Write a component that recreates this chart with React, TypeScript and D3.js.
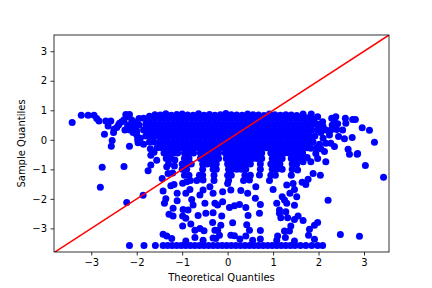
import { useEffect, useRef } from "react"
import * as d3 from "d3"

type Pt = [number, number]

const xTicks = [-3, -2, -1, 0, 1, 2, 3]
const yTicks = [-3, -2, -1, 0, 1, 2, 3]
const lineEnds = [-3.82, 3.55]

// left tail of the upper band
const leftFringe: Pt[] = [
  [-3.42, 0.59], [-3.22, 0.83], [-3.07, 0.83], [-2.94, 0.83], [-2.88, 0.72], [-2.83, 0.64], [-2.68, 0.64],
  [-2.57, 0.64], [-2.63, 0.47], [-2.71, 0.19], [-2.51, 0.25], [-2.44, 0.42], [-2.54, -0.02], [-2.56, -0.22],
  [-2.16, -0.22], [-2.33, 0.61], [-2.22, 0.78], [-2.16, 0.86], [-2.24, 0.86], [-2.26, 0.33], [-2.11, 0.67],
  [-2.15, 0.33], [-2.05, 0.44], [-2.0, 0.16], [-1.97, -0.1], [-2.4, 0.5], [-2.1, 0.55], [-2.0, 0.3],
  [-1.92, 0.05], [-1.85, -0.15], [-1.7, -0.3], [-1.62, -0.42], [-2.5, 0.36], [-2.38, 0.56], [-2.28, 0.68],
  [-2.2, 0.5], [-2.2, 0.38], [-2.05, 0.6], [-1.95, 0.5], [-1.95, 0.72], [-2.08, 0.25], [-1.98, 0.0],
]

// right tail of the upper band
const rightFringe: Pt[] = [
  [3.23, -0.08], [3.12, 0.32], [2.96, 0.41], [2.81, 0.69], [2.75, 0.69], [2.59, 0.73], [2.6, 0.56],
  [2.74, 0.08], [2.57, 0.04], [2.44, 0.11], [2.53, 0.33], [2.38, 0.78], [2.29, 0.73], [2.35, 0.61],
  [2.42, 0.54], [2.35, -0.23], [2.27, -0.12], [2.65, -0.32], [2.86, -0.46], [1.98, 0.78], [1.84, 0.87],
  [1.66, 0.87], [2.09, 0.61], [2.16, 0.33], [2.27, 0.33], [2.24, 0.16], [2.16, -0.12], [2.13, -0.4],
  [1.94, -0.46], [1.83, -0.29], [2.1, 0.45], [2.05, 0.25], [2.1, 0.05], [2.02, -0.15], [2.05, -0.3],
  [1.72, 0.75], [1.9, 0.65], [2.0, 0.5], [1.95, -0.28], [2.3, 0.5], [2.4, 0.35],
]

// wavy top edge of the dense band
const topEdge: Pt[] = [
  [-1.72, 0.8], [-1.6, 0.85], [-1.48, 0.84], [-1.36, 0.88], [-1.24, 0.83], [-1.12, 0.86], [-1.0, 0.87],
  [-0.88, 0.84], [-0.76, 0.83], [-0.64, 0.88], [-0.52, 0.83], [-0.4, 0.86], [-0.28, 0.83], [-0.16, 0.85],
  [-0.04, 0.89], [0.08, 0.85], [0.2, 0.84], [0.32, 0.83], [0.44, 0.87], [0.56, 0.85], [0.68, 0.84],
  [0.8, 0.82], [0.92, 0.87], [1.04, 0.85], [1.16, 0.83], [1.28, 0.85], [1.4, 0.84], [1.52, 0.82],
]

const denseLevels = [0.73, 0.53, 0.33, 0.13, -0.07, -0.27]

const denseA = [-1.85, -1.75, -1.65, -1.55, -1.45, -1.35, -1.25, -1.15, -1.05, -0.95, -0.85, -0.75, -0.65, -0.55, -0.45, -0.35, -0.25, -0.15, -0.05, 0.05, 0.15, 0.25, 0.35, 0.45, 0.55, 0.65, 0.75, 0.85, 0.95, 1.05, 1.15, 1.25, 1.35, 1.45, 1.55, 1.65, 1.75, 1.85]
const denseB = [-1.8, -1.7, -1.6, -1.5, -1.4, -1.3, -1.2, -1.1, -1.0, -0.9, -0.8, -0.7, -0.6, -0.5, -0.4, -0.3, -0.2, -0.1, 0, 0.1, 0.2, 0.3, 0.4, 0.5, 0.6, 0.7, 0.8, 0.9, 1.0, 1.1, 1.2, 1.3, 1.4, 1.5, 1.6, 1.7, 1.8, 1.9, 2.0]
const denseC = [-1.85, -1.75, -1.65, -1.55, -1.45, -1.35, -1.25, -1.15, -1.05, -0.95, -0.85, -0.75, -0.65, -0.55, -0.45, -0.35, -0.25, -0.15, -0.05, 0.05, 0.15, 0.25, 0.35, 0.45, 0.55, 0.65, 0.75, 0.85, 0.95, 1.05, 1.15, 1.25, 1.35, 1.45, 1.55, 1.65, 1.75, 1.85, 1.98]
const denseD = [-1.8, -1.7, -1.6, -1.5, -1.4, -1.3, -1.2, -1.1, -1.0, -0.9, -0.8, -0.7, -0.6, -0.5, -0.4, -0.3, -0.2, -0.1, 0, 0.1, 0.2, 0.3, 0.4, 0.5, 0.6, 0.7, 0.8, 0.9, 1.0, 1.1, 1.2, 1.3, 1.4, 1.5, 1.6, 1.7, 1.8, 1.92]
const denseE = [-1.72, -1.62, -1.5, -1.4, -1.3, -1.2, -1.1, -1.0, -0.9, -0.8, -0.7, -0.6, -0.5, -0.4, -0.3, -0.2, -0.1, 0, 0.1, 0.2, 0.3, 0.4, 0.5, 0.6, 0.7, 0.8, 0.9, 1.0, 1.1, 1.2, 1.3, 1.4, 1.5, 1.6, 1.7, 1.78, 1.88]
const denseF = [-1.55, -1.45, -1.35, -1.25, -1.15, -1.05, -0.95, -0.85, -0.75, -0.65, -0.55, -0.45, -0.35, -0.25, -0.15, -0.05, 0.05, 0.15, 0.25, 0.35, 0.45, 0.55, 0.65, 0.75, 0.85, 0.95, 1.05, 1.15, 1.25, 1.35, 1.45, 1.55, 1.65, 1.75]
const denseRows = [denseA, denseB, denseC, denseD, denseE, denseF]

// rows below the band, broken where the picture shows white gaps
const gapLevels = [-0.45, -0.63, -0.82, -1.0, -1.2, -1.38]

const gapA = [-1.4, -1.3, -1.2, -1.1, -0.95, -0.85, -0.75, -0.6, -0.5, -0.4, -0.3, -0.2, -0.05, 0.05, 0.15, 0.25, 0.35, 0.45, 0.55, 0.65, 0.75, 0.95, 1.05, 1.15, 1.25, 1.35, 1.45, 1.55, 1.65]
const gapB = [-1.35, -1.25, -0.95, -0.85, -0.6, -0.5, -0.4, -0.3, -0.2, -0.03, 0.05, 0.15, 0.25, 0.35, 0.45, 0.55, 0.65, 0.75, 0.98, 1.1, 1.2, 1.4, 1.5, 1.6]
const gapC = [-1.3, -1.0, -0.9, -0.8, -0.55, -0.45, -0.35, -0.25, 0, 0.1, 0.2, 0.3, 0.4, 0.5, 0.72, 0.95, 1.05, 1.15, 1.42, 1.52]
const gapD = [-1.0, -0.9, -0.55, -0.32, -0.25, 0.02, 0.1, 0.2, 0.3, 0.4, 0.72, 0.98, 1.08, 1.2, 1.42]
const gapE = [-0.95, -0.85, -0.62, -0.55, -0.3, 0.0, 0.08, 0.38, 0.5, 0.95, 1.05, 1.4]
const gapF = [-0.82, -0.68, -0.3, 0.02, 0.35, 0.92]
const gapRows = [gapA, gapB, gapC, gapD, gapE, gapF]

// loose points under the band
const midScatter: Pt[] = [
  [-1.69, -0.52], [-1.56, -0.69], [-1.69, -0.85], [-1.75, -1.05], [-1.34, -0.52], [-1.16, -0.68],
  [-0.54, -1.36], [-0.39, -1.59], [-1.34, -0.91], [-1.17, -0.89], [0, -1.48], [1.75, -0.6], [1.66, -0.55],
]

const lowerScatter: Pt[] = [
  [-2.76, -0.93], [-2.28, -0.9], [-2.8, -1.61], [-1.86, -1.88], [-2.22, -2.12], [-1.44, -1.31], [-1.31, -1.14],
  [-1.21, -1.12], [-1.25, -1.56], [-1.18, -1.51], [-1.42, -1.73], [-1.11, -1.81], [-1.36, -2.0], [-1.39, -2.15],
  [-1.11, -2.06], [-1.2, -2.32], [-1.29, -2.52], [-1.2, -2.58], [-0.99, -1.47], [-0.9, -1.42], [-0.92, -1.81],
  [-0.83, -1.68], [-0.79, -2.02], [-0.98, -2.36], [-0.87, -2.38], [-0.76, -2.21], [-0.5, -2.15], [-0.28, -2.15],
  [-0.99, -2.58], [-0.92, -2.66], [-0.65, -2.56], [-0.48, -2.49], [-0.32, -2.47], [-0.33, -2.8], [-0.99, -2.92],
  [-0.81, -2.85], [-0.72, -3.06], [-0.61, -3.0], [-0.52, -3.08], [-0.72, -3.31], [-1.42, -3.2], [-1.34, -3.26],
  [-1.23, -3.34], [-0.92, -3.43], [-0.54, -3.4], [-0.28, -3.06], [-0.32, -3.33], [-0.54, -1.7], [-0.32, -1.81],
  [-0.61, -1.87], [-0.13, -2.58], [-0.11, -2.1], [-0.22, -2.21], [-0.11, -1.76], [0.07, -1.7], [0.29, -1.72],
  [0.44, -1.81], [0.48, -1.36], [0.62, -1.59], [0.7, -1.19], [-0.15, -2.89],
  [-0.22, -3.06], [-0.18, -3.23], [-0.26, -3.34], [0.11, -2.81], [0.07, -3.23], [0.15, -3.25], [0.27, -3.36],
  [0.55, -3.4], [0.72, -3.36], [0.72, -3.07], [0.48, -3.06], [0.42, -2.88], [0.4, -3.26], [0.45, -2.56],
  [0.7, -2.49], [0.72, -2.19], [0.61, -1.98], [0.4, -2.29], [0.26, -2.19], [0.15, -2.23], [0.04, -2.29],
  [3.43, -1.27], [3.03, -0.87], [2.85, -0.49], [2.68, -0.49], [2.21, -2.05], [2.48, -3.21], [2.9, -3.27],
  [1.88, -1.14], [2.04, -1.2], [1.77, -1.34], [1.64, -1.44], [1.72, -1.51], [2.16, -0.74], [1.98, -0.63],
  [1.83, -0.74], [1.66, -0.74], [1.54, -1.02], [1.3, -1.53], [1.44, -1.48], [1.47, -1.68], [1.37, -1.81],
  [1.52, -1.93], [1.0, -1.68], [1.2, -1.93], [1.25, -2.04], [1.08, -2.15], [1.3, -2.15], [1.47, -2.22],
  [1.14, -2.38], [1.14, -2.49], [1.28, -2.44], [1.17, -2.64], [1.32, -2.64], [1.55, -2.58], [1.47, -2.7],
  [1.66, -2.73], [1.98, -2.8], [1.91, -2.89], [1.8, -3.03], [1.78, -3.23], [1.91, -3.37], [1.39, -2.92],
  [1.25, -3.09], [1.36, -3.09], [1.1, -3.26], [1.27, -3.31], [1.08, -3.4], [1.47, -3.43],
]

// floor of the sample values
const floorValue = -3.58
const floorX = [-2.16, -1.84, -1.59, -1.42, -1.32, -1.22, -1.12, -1.02, -0.92, -0.82, -0.72, -0.62, -0.52, -0.42, -0.32, -0.22, -0.12, -0.02, 0.08, 0.18, 0.28, 0.38, 0.48, 0.58, 0.68, 0.78, 0.88, 0.98, 1.08, 1.18, 1.28, 1.38, 1.48, 1.6, 1.72, 1.85, 1.98, 2.09]

const width = 432
const height = 288
const margin = { top: 35, right: 43, bottom: 36, left: 54 }

export default function App() {
  const svgRef = useRef<SVGSVGElement>(null)

  useEffect(() => {
    if (!svgRef.current) return
    const svg = d3.select(svgRef.current)
    svg.selectAll("*").remove()

    const x = d3.scaleLinear().domain([-3.82, 3.55]).range([margin.left, width - margin.right])
    const y = d3.scaleLinear().domain([-3.8, 3.55]).range([height - margin.bottom, margin.top])

    const points: Pt[] = [
      ...leftFringe,
      ...rightFringe,
      ...topEdge,
      ...denseRows.flatMap((row, i) => row.map((v): Pt => [v, denseLevels[i]])),
      ...gapRows.flatMap((row, i) => row.map((v): Pt => [v, gapLevels[i]])),
      ...midScatter,
      ...lowerScatter,
      ...floorX.map((v): Pt => [v, floorValue]),
    ]

    svg
      .append("clipPath")
      .attr("id", "plot-clip")
      .append("rect")
      .attr("x", margin.left)
      .attr("y", margin.top)
      .attr("width", width - margin.left - margin.right)
      .attr("height", height - margin.top - margin.bottom)

    svg
      .append("g")
      .selectAll("circle")
      .data(points)
      .enter()
      .append("circle")
      .attr("cx", (d) => x(d[0]))
      .attr("cy", (d) => y(d[1]))
      .attr("r", 3.5)
      .attr("fill", "#0000ff")

    const line = d3
      .line<number>()
      .x((d) => x(d))
      .y((d) => y(d))

    svg
      .append("path")
      .attr("d", line(lineEnds))
      .attr("fill", "none")
      .attr("stroke", "#ff0000")
      .attr("stroke-width", 1.5)
      .attr("clip-path", "url(#plot-clip)")

    const xAxis = svg
      .append("g")
      .attr("transform", `translate(0,${height - margin.bottom})`)
      .call(d3.axisBottom(x).tickValues(xTicks).tickSize(3.5).tickPadding(3.5).tickSizeOuter(0))
    const yAxis = svg
      .append("g")
      .attr("transform", `translate(${margin.left},0)`)
      .call(d3.axisLeft(y).tickValues(yTicks).tickSize(3.5).tickPadding(3.5).tickSizeOuter(0))

    for (const axis of [xAxis, yAxis]) {
      axis.select(".domain").remove()
      axis.selectAll("line").attr("stroke", "#000").attr("stroke-width", 0.8)
      axis.selectAll("text").attr("fill", "#000").attr("font-size", 10).attr("font-family", "DejaVu Sans")
    }

    svg
      .append("rect")
      .attr("x", margin.left)
      .attr("y", margin.top)
      .attr("width", width - margin.left - margin.right)
      .attr("height", height - margin.top - margin.bottom)
      .attr("fill", "none")
      .attr("stroke", "#000")
      .attr("stroke-width", 0.8)

    svg
      .append("text")
      .attr("x", (margin.left + width - margin.right) / 2)
      .attr("y", 281)
      .attr("text-anchor", "middle")
      .attr("font-size", 10)
      .attr("font-family", "DejaVu Sans")
      .text("Theoretical Quantiles")

    svg
      .append("text")
      .attr("transform", `translate(25,${(margin.top + height - margin.bottom) / 2}) rotate(-90)`)
      .attr("text-anchor", "middle")
      .attr("font-size", 10)
      .attr("font-family", "DejaVu Sans")
      .text("Sample Quantiles")
  }, [])

  return <svg ref={svgRef} width={width} height={height} style={{ position: "absolute", left: 0, top: 0, background: "#fff" }} />
}
